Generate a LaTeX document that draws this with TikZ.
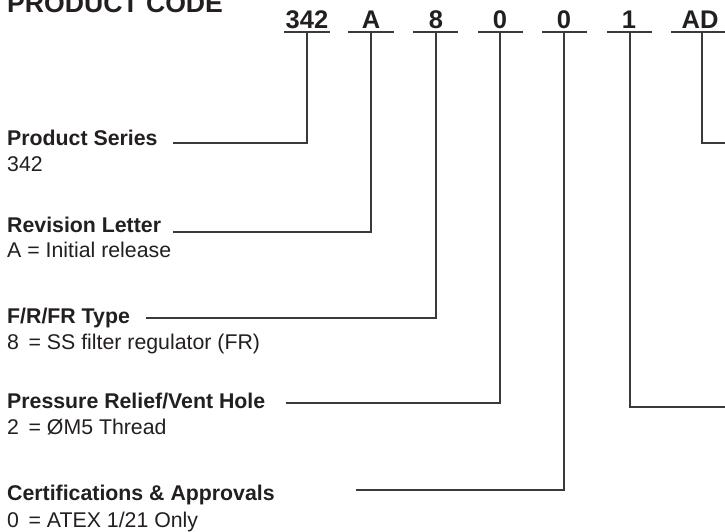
\documentclass[tikz,border=0pt]{standalone}
\usepackage{fontspec}
\setmainfont{Liberation Sans}
\definecolor{ink}{HTML}{231F20}
\definecolor{rulec}{HTML}{3A3A3A}
\begin{document}
\begin{tikzpicture}[x=1pt,y=-1pt,
  head/.style={font=\fontsize{21.3}{24}\selectfont\bfseries, text=ink, inner sep=0, anchor=base west},
  desc/.style={font=\fontsize{21.3}{24}\selectfont, text=ink, inner sep=0, anchor=base west},
  title/.style={font=\fontsize{26.6}{30}\selectfont\bfseries, text=ink, inner sep=0, anchor=base west},
  code/.style={font=\fontsize{25.5}{28}\selectfont\bfseries, text=ink, inner sep=0, anchor=base},
  wire/.style={draw=rulec, line width=1.1pt},
]
\useasboundingbox (0,0) rectangle (725,532);
\fill[white] (0,0) rectangle (725,532);

\node[title] (title) at (7,13) {PRODUCT CODE};

% code characters
\node[code] (c1) at (307,28.5) {342};
\node[code] (c2) at (371,28.5) {A};
\node[code] (c3) at (436,28.5) {8};
\node[code] (c4) at (500,28.5) {0};
\node[code] (c5) at (564,28.5) {0};
\node[code] (c6) at (629,28.5) {1};
\node[code] (c7) at (700,28.5) {AD};

% underlines
\draw[wire] (284,32) -- (330,32);
\draw[wire] (348,32) -- (394,32);
\draw[wire] (413,32) -- (458,32);
\draw[wire] (478,32) -- (523,32);
\draw[wire] (542,32) -- (587,32);
\draw[wire] (607,32) -- (652,32);
\draw[wire] (671,32) -- (725,32);

% headings and descriptions
\node[head] (h1) at (7,146) {Product Series};
\node[desc] (d1) at (7,171) {342};
\node[head] (h2) at (7,232) {Revision Letter};
\node[desc] (d2) at (7,257) {A = Initial release};
\node[head] (h3) at (7,323) {F/R/FR Type};
\node[desc] (d3) at (7,349) {8\hspace{0.45em}= SS filter regulator (FR)};
\node[head] (h4) at (7,408) {Pressure Relief/Vent Hole};
\node[desc] (d4) at (7,434) {2\hspace{0.45em}= ØM5 Thread};
\node[head] (h5) at (7,500) {Certifications \& Approvals};
\node[desc] (d5) at (7,527) {0\hspace{0.45em}= ATEX 1/21 Only};

% connector anchors
\coordinate (u1) at (307,32);
\coordinate (u2) at (371,32);
\coordinate (u3) at (436,32);
\coordinate (u4) at (500,32);
\coordinate (u5) at (564,32);
\coordinate (u6) at (630,32);
\coordinate (u7) at (702,32);
\coordinate (s1) at (173,143);
\coordinate (s2) at (173,232);
\coordinate (s3) at (146,318);
\coordinate (s4) at (286,403);
\coordinate (s5) at (356,490);
\coordinate (s6) at (725,407);
\coordinate (s7) at (725,143);

\draw[wire] (u1) |- (s1);
\draw[wire] (u2) |- (s2);
\draw[wire] (u3) |- (s3);
\draw[wire] (u4) |- (s4);
\draw[wire] (u5) |- (s5);
\draw[wire] (u6) |- (s6);
\draw[wire] (u7) |- (s7);
\end{tikzpicture}
\end{document}
